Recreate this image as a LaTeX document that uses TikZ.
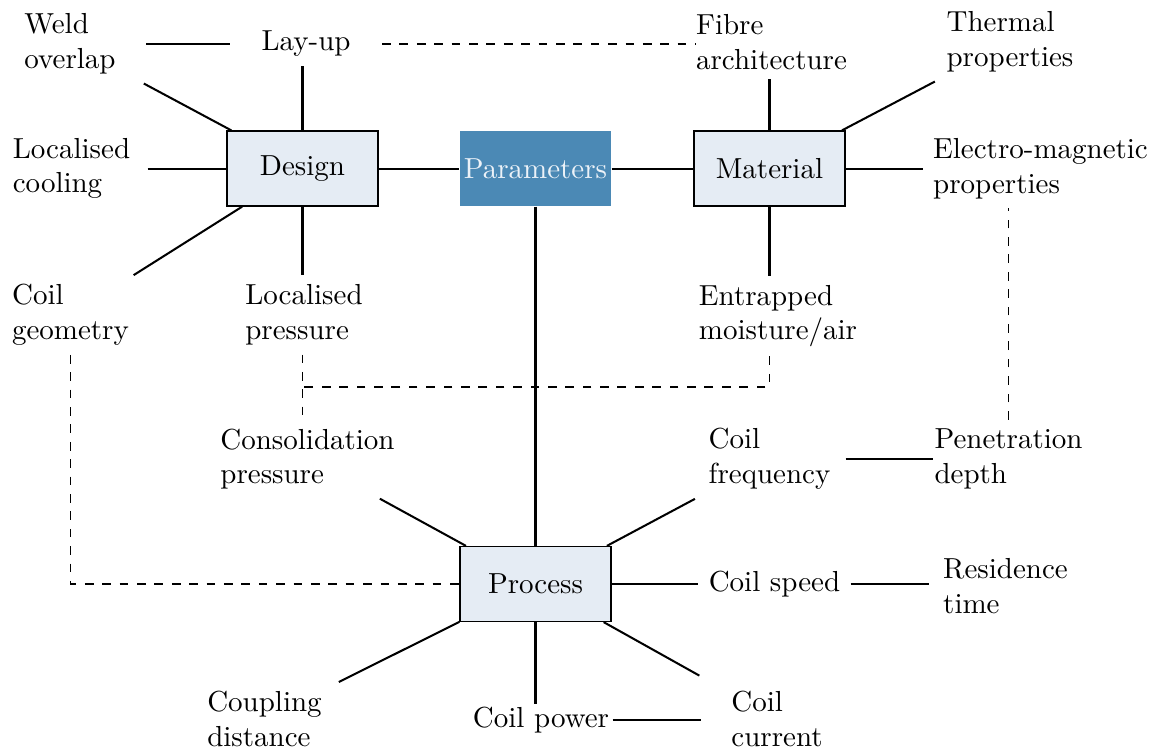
\documentclass[tikz,border=0pt]{standalone}
\usetikzlibrary{calc}
\definecolor{parfill}{RGB}{75,137,181}
\definecolor{partext}{RGB}{236,242,248}
\definecolor{boxfill}{RGB}{229,236,244}
\begin{document}
\begin{tikzpicture}[x=0.345pt,y=-0.345pt,
  box/.style={draw, line width=0.4pt, fill=boxfill, minimum width=52.1pt, minimum height=25.9pt, inner sep=0pt},
  pbox/.style={fill=parfill, text=partext, minimum width=52.1pt, minimum height=25.9pt, inner sep=0pt},
  txt/.style={align=left, minimum width=52.1pt, inner xsep=3.33pt, inner ysep=3pt},
  conn/.style={line width=0.7pt},
  dconn/.style={line width=0.55pt, dashed}]
\useasboundingbox (0,0) rectangle (1158,753);
% nodes
\node[txt] (weld) at (70,44) {Weld\\overlap};
\node[txt] (layup) at (306,44) {Lay-up};
\node[txt] (fibre) at (771.5,42) {Fibre\\architecture};
\node[txt] (thermal) at (1010,42) {Thermal\\properties};
\node[txt] (cooling) at (71.5,168.5) {Localised\\cooling};
\node[box] (design) at (302.5,168.5) {Design};
\node[pbox] (params) at (535.5,168.5) {Parameters};
\node[box] (material) at (769.5,168.5) {Material};
\node[txt] (electro) at (1040.5,168.5) {Electro-magnetic\\properties};
\node[txt] (coilgeom) at (70.5,315) {Coil\\geometry};
\node[txt] (locpress) at (304,315) {Localised\\pressure};
\node[txt] (entrapped) at (778,316) {Entrapped\\moisture/air};
\node[txt] (conspress) at (307.5,459) {Consolidation\\pressure};
\node[txt] (coilfreq) at (769.5,459) {Coil\\frequency};
\node[txt] (penetration) at (1008.5,459) {Penetration\\depth};
\node[box] (process) at (535.5,584) {Process};
\node[txt, inner xsep=1.5pt] (coilspeed) at (774.5,584) {Coil speed};
\node[txt] (residence) at (1005.5,586) {Residence\\time};
\node[txt] (coupling) at (264.5,719) {Coupling\\distance};
\node[txt, minimum width=0pt, inner xsep=1pt, inner ysep=1pt] (coilpower) at (541,720) {Coil power};
\node[txt] (coilcurrent) at (777,719) {Coil\\current};
% solid connectors
\draw[conn] (weld.east) -- (weld.east -| layup.west);
\draw[conn] (weld) -- (design);
\draw[conn] (design.north) -- (design.north |- layup.south);
\draw[conn] (cooling) -- (design);
\draw[conn] (coilgeom) -- (design);
\draw[conn] (design.south) -- (design.south |- locpress.north);
\draw[conn] (design) -- (params);
\draw[conn] (params) -- (material);
\draw[conn] (material.north) -- (material.north |- fibre.south);
\draw[conn] (material) -- (thermal);
\draw[conn] (material) -- (electro);
\draw[conn] (material.south) -- (material.south |- entrapped.north);
\draw[conn] (params) -- (process);
\draw[conn] (process) -- (conspress);
\draw[conn] (process) -- (coilfreq);
\draw[conn] (process) -- (coilspeed);
\draw[conn, shorten >=4.5pt] (process) -- (coilcurrent);
\draw[conn] (process) -- (coupling);
\draw[conn] (process.south) -- (process.south |- coilpower.north);
\draw[conn] (coilpower.east) -- (coilpower.east -| coilcurrent.west);
\draw[conn, shorten >=-3pt] (coilfreq) -- (penetration);
\draw[conn] (coilspeed.east) -- (coilspeed.east -| residence.west);
% dashed connectors
\draw[dconn, shorten >=-3.3pt] (layup.east) -- (layup.east -| fibre.west);
\draw[dconn] (design.south |- locpress.south) -- (design.south |- conspress.north);
\coordinate (mid) at ($(design.south |- locpress.south)!0.5!(design.south |- conspress.north)$);
\draw[dconn] (material.south |- entrapped.south) |- (mid);
\draw[dconn] (penetration.north) -- (penetration.north |- electro.south);
\draw[dconn] (coilgeom.south) |- (process.west);
\end{tikzpicture}
\end{document}
